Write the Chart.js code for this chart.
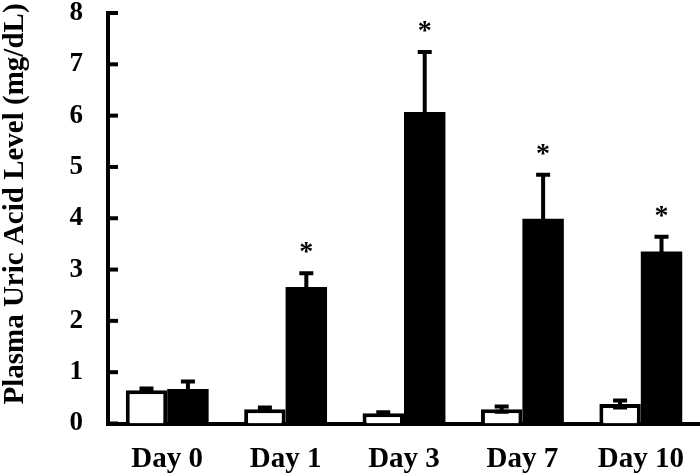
<!DOCTYPE html>
<html>
<head>
<meta charset="utf-8">
<script src="https://cdn.jsdelivr.net/npm/chart.js@4.4.0/dist/chart.umd.min.js"></script>
<style>
  html, body { margin: 0; padding: 0; background: #fff; }
  #wrap { width: 700px; height: 476px; }
</style>
</head>
<body>
<div id="wrap"><canvas id="chart"></canvas></div>
<script>
const days = ["Day 0", "Day 1", "Day 3", "Day 7", "Day 10"];
const controlMean = [0.65, 0.28, 0.20, 0.28, 0.38];
const controlErr = [0.03, 0.03, 0.02, 0.05, 0.07];
const treatedMean = [0.67, 2.66, 6.07, 3.99, 3.35];
const treatedErr = [0.15, 0.27, 1.17, 0.86, 0.29];
const significant = [false, true, true, true, true];
const yTitle = "Plasma Uric Acid Level (mg/dL)";
const yMax = 8;
const yStep = 1;

const FONT = "'Liberation Serif', 'Times New Roman', serif";

// error bars, asterisks, inward y ticks and the y title
const extras = {
  id: "extras",
  afterDatasetsDraw(chart) {
    const ctx = chart.ctx;
    const y = chart.scales.y;
    const errs = [controlErr, treatedErr];
    ctx.save();
    ctx.strokeStyle = "#000";
    ctx.fillStyle = "#000";
    ctx.lineWidth = 4;
    chart.data.datasets.forEach((ds, di) => {
      chart.getDatasetMeta(di).data.forEach((bar, i) => {
        const hi = y.getPixelForValue(ds.data[i] + errs[di][i]);
        const lo = y.getPixelForValue(ds.data[i] - errs[di][i]);
        ctx.beginPath();
        ctx.moveTo(bar.x, lo);
        ctx.lineTo(bar.x, hi);
        ctx.moveTo(bar.x - 7, hi);
        ctx.lineTo(bar.x + 7, hi);
        ctx.moveTo(bar.x - 7, lo);
        ctx.lineTo(bar.x + 7, lo);
        ctx.stroke();
        if (di === 1 && significant[i]) {
          ctx.font = "bold 28px " + FONT;
          ctx.textAlign = "center";
          ctx.textBaseline = "middle";
          ctx.fillText("*", bar.x, hi - 20);
        }
      });
    });
    y.ticks.forEach((t) => {
      const py = y.getPixelForValue(t.value);
      ctx.beginPath();
      ctx.moveTo(y.right, py);
      ctx.lineTo(y.right + 10, py);
      ctx.stroke();
    });
    // rotated axis title
    ctx.translate(16, 204);
    ctx.rotate(-Math.PI / 2);
    ctx.font = "bold 29px " + FONT;
    ctx.textAlign = "center";
    ctx.textBaseline = "middle";
    ctx.fillText(yTitle, 0, 0);
    ctx.restore();
  }
};

new Chart(document.getElementById("chart"), {
  type: "bar",
  data: {
    labels: days,
    datasets: [
      {
        label: "Control",
        data: controlMean,
        backgroundColor: "#fff",
        borderColor: "#000",
        borderWidth: 4,
        barPercentage: 1,
        categoryPercentage: 0.7,
      },
      {
        label: "Treated",
        data: treatedMean,
        backgroundColor: "#000",
        borderColor: "#000",
        borderWidth: 0,
        barPercentage: 1,
        categoryPercentage: 0.7,
      },
    ],
  },
  options: {
    responsive: true,
    maintainAspectRatio: false,
    animation: false,
    layout: { padding: 0 },
    plugins: {
      legend: { display: false },
      tooltip: { enabled: false },
    },
    scales: {
      x: {
        z: 1,
        grid: { display: false, drawTicks: false },
        border: { display: true, color: "#000", width: 4 },
        ticks: {
          color: "#000",
          padding: 19,
          font: { family: FONT, size: 29, weight: "bold" },
        },
        afterFit(scale) {
          scale.height = 52.5;
          scale.paddingLeft = 0;
          scale.paddingRight = 0;
        },
      },
      y: {
        z: 1,
        min: 0,
        max: yMax,
        grid: { display: false, drawTicks: false },
        border: { display: true, color: "#000", width: 4 },
        ticks: {
          stepSize: yStep,
          color: "#000",
          padding: 25,
          font: { family: FONT, size: 27, weight: "bold" },
        },
        afterFit(scale) {
          scale.width = 108;
          scale.paddingTop = 13;
          scale.paddingBottom = 0;
        },
      },
    },
  },
  plugins: [extras],
});
</script>
</body>
</html>
